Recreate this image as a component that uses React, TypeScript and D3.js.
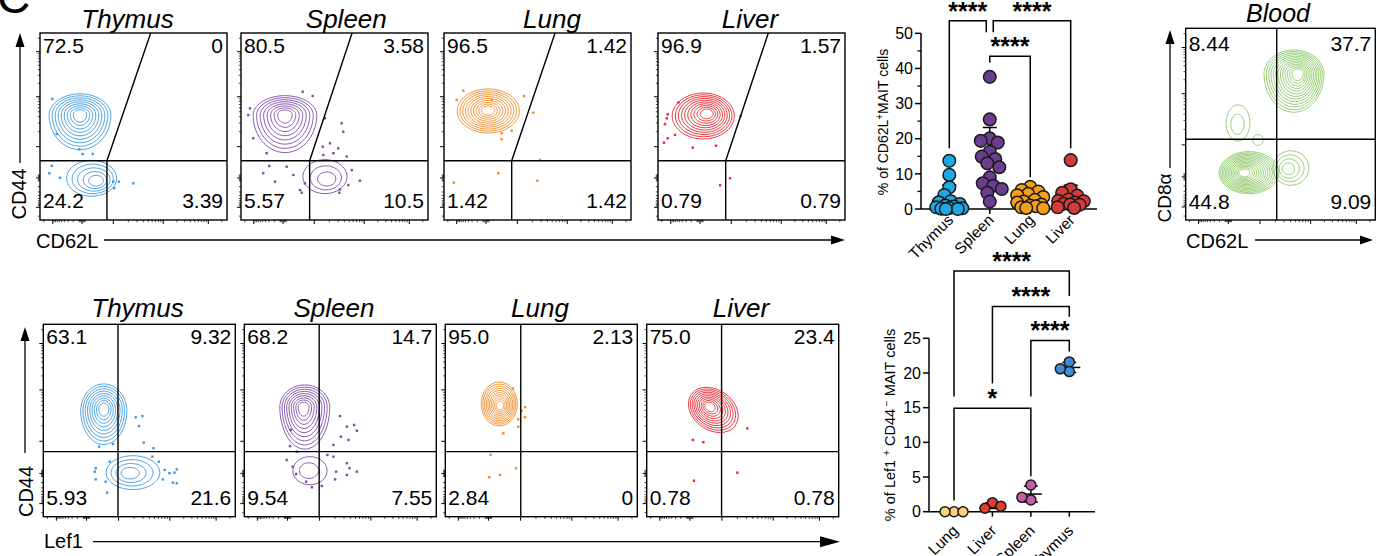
import * as d3 from "d3";
import React from "react";

const FONT = "'Liberation Sans', Arial, Helvetica, sans-serif";

// ---------- top row: CD62L vs CD44 ----------
const tissues = ["Thymus", "Spleen", "Lung", "Liver"];
const cd62lQuadrants = [
  ["72.5", "0", "24.2", "3.39"],
  ["80.5", "3.58", "5.57", "10.5"],
  ["96.5", "1.42", "1.42", "1.42"],
  ["96.9", "1.57", "0.79", "0.79"],
];
const cd62lGateX = [35.8, 36.7, 36.2, 36.2];
const cd62lGateTopX = [59.2, 59.4, 59.4, 59.0];
const cd62lGateY = 31.7;

// contour islands (axis units 0-100): centre, radii, levels, peak, rotation, downward stretch
const thymusCd62lContours = [
  { cx: 21.4, cy: 56, rx: 16.5, ry: 11.5, n: 9, px: 21.4, py: 56.5, rot: 0, tail: 1.6 },
  { cx: 27.6, cy: 22.3, rx: 13.4, ry: 9.6, n: 5, px: 31, py: 20.5, rot: 0, tail: 1 },
];
const spleenCd62lContours = [
  { cx: 23.5, cy: 56, rx: 17, ry: 10.5, n: 8, px: 23.5, py: 56.5, rot: 0, tail: 1.9 },
  { cx: 44.9, cy: 23.2, rx: 11.8, ry: 9.1, n: 3, px: 46.5, py: 21, rot: 0, tail: 1 },
];
const lungCd62lContours = [
  { cx: 23.7, cy: 58.3, rx: 16.6, ry: 11.8, n: 10, px: 23.5, py: 58.5, rot: 0, tail: 1 },
];
const liverCd62lContours = [
  { cx: 24.2, cy: 55.6, rx: 16.6, ry: 12.3, n: 10, px: 26.5, py: 57, rot: 0, tail: 1 },
];

const thymusCd62lEvents = [
  [6.6, 64.7], [8.9, 46], [21, 37.8], [22.8, 35.3], [28.2, 35.3], [6.3, 29], [5, 25],
  [10.7, 22.6], [39.2, 20.5], [42.2, 20.5], [49.9, 19.6], [39.7, 17],
];
const spleenCd62lEvents = [
  [33, 68.6], [38.3, 66.3], [4.8, 59.7], [3.9, 56.1], [6.6, 43.7], [44.9, 54.4], [53.8, 51.7],
  [54.7, 47.2], [43.7, 39.2], [47.6, 41], [52, 38.3], [49.4, 35.7], [44, 34.8], [56.5, 33.9],
  [13.7, 35.7], [15.1, 28.9], [11.9, 25], [18.2, 20.5], [28, 24.1], [24.4, 28.5], [31.6, 16],
  [34.2, 19.6], [52.9, 16.4], [57.4, 18.7], [52.6, 14.6], [63.6, 21], [59.2, 26.7], [32.5, 14.6],
];
const lungCd62lEvents = [
  [10.3, 69.2], [6.8, 64.2], [25.5, 64.2], [42.8, 66.3], [47.8, 57.4], [30.8, 46.4], [30.8, 43.2],
  [36.2, 47.8], [29, 25], [5.3, 20], [51.3, 32.1], [49.9, 21],
];
const liverCd62lEvents = [
  [10.9, 62.9], [5.2, 56.5], [4.7, 54.4], [3.7, 51.3], [3.2, 41.3], [5.2, 43.7], [9.1, 45.5],
  [18.6, 38.7], [31, 39.7], [44.2, 55.6], [38.5, 22.3], [33.2, 18.6],
];

// ---------- bottom row: Lef1 vs CD44 ----------
const lef1Quadrants = [
  ["63.1", "9.32", "5.93", "21.6"],
  ["68.2", "14.7", "9.54", "7.55"],
  ["95.0", "2.13", "2.84", "0"],
  ["75.0", "23.4", "0.78", "0.78"],
];
const lef1GateX = [38.9, 39.0, 39.3, 39.0];
const lef1GateY = 33.8;

const thymusLef1Contours = [
  { cx: 31.5, cy: 55, rx: 12, ry: 14, n: 9, px: 31.5, py: 56.3, rot: 0, tail: 1.25 },
  { cx: 46.7, cy: 22.9, rx: 14, ry: 8.8, n: 4, px: 44.5, py: 22.5, rot: 0, tail: 1 },
];
const spleenLef1Contours = [
  { cx: 31.5, cy: 57, rx: 13, ry: 11.5, n: 9, px: 30.7, py: 57, rot: 0, tail: 1.9 },
  { cx: 34.2, cy: 23.9, rx: 8.9, ry: 7.3, n: 2, px: 33, py: 24, rot: 0, tail: 1 },
];
const lungLef1Contours = [
  { cx: 28.1, cy: 58.6, rx: 9.4, ry: 11.4, n: 10, px: 28.5, py: 57.5, rot: 0, tail: 1 },
];
const liverLef1Contours = [
  { cx: 34.7, cy: 55.5, rx: 14, ry: 10.5, n: 10, px: 32.5, py: 57.5, rot: -35, tail: 1 },
];

const thymusLef1Events = [
  [48.1, 51.7], [51.6, 52.3], [49.8, 47.1], [52.3, 38.5], [29.1, 36.4], [36.3, 37.8], [57.4, 35.6],
  [56.8, 31.2], [60.2, 28.6], [27.3, 25.2], [26.8, 23.4], [34.6, 28.6], [27.3, 19.4], [32.5, 18.2],
  [33.2, 12.5], [63.2, 24.3], [65.7, 22.6], [68.3, 22.9], [69.5, 24.6], [67.5, 17.7], [69.5, 17.4],
  [62.3, 19.4],
];
const spleenLef1Events = [
  [49.9, 52.3], [53.4, 46.8], [57.2, 47.7], [58.6, 44.7], [54.3, 39.9], [50.3, 41.6], [46.4, 37.3],
  [23.8, 36.7], [27.3, 33.8], [22.1, 29.5], [25.2, 26], [27, 22.2], [32.2, 18.2], [35.2, 15.3],
  [40.4, 16], [47.3, 19.4], [53.4, 21.7], [58.6, 23.4], [53.4, 27.8], [46.4, 31.2], [43.3, 32.1],
  [47.8, 23.4], [54.8, 25.2], [24.2, 45.1],
];
const lungLef1Events = [
  [35.1, 66.7], [41.5, 56.9], [39.8, 55.1], [41.5, 51.7], [38, 50.6], [38, 46.8], [30.2, 43.3],
  [23.6, 32.1], [36.8, 25.2], [28.5, 21.7], [22.9, 20.5],
];
const liverLef1Events = [[52.4, 45.9], [24, 39.9], [29.5, 38.7], [47.2, 22.9], [24.6, 18.7]];

// ---------- blood: CD62L vs CD8a ----------
const bloodQuadrants = ["8.44", "37.7", "44.8", "9.09"];
const bloodGateX = 48;
const bloodGateY = 42.1;
const bloodContours = [
  { cx: 57.1, cy: 76.2, rx: 15.8, ry: 12.5, n: 13, px: 59.5, py: 76.5, rot: 0, tail: 1.6 },
  { cx: 27.6, cy: 50.6, rx: 6.3, ry: 9.4, n: 2, px: 27, py: 49, rot: 0, tail: 1 },
  { cx: 38.1, cy: 41.7, rx: 2.8, ry: 2.8, n: 1, px: 38.1, py: 41.7, rot: 0, tail: 1 },
  { cx: 33.4, cy: 24.7, rx: 15.8, ry: 11, n: 14, px: 30.5, py: 24.5, rot: 0, tail: 1 },
  { cx: 55.5, cy: 27.1, rx: 9.5, ry: 9, n: 4, px: 53.5, py: 26.5, rot: 0, tail: 1 },
];

// biexponential axis decades (axis units)
const flowMajorTicks = [6.8, 22.5, 39.2, 65.9, 90];

// ---------- % CD62L+ MAIT cells ----------
const cd62lThymus = [13.7, 9.7, 6.2, 4.0, 2.2, 1.9, 1.4, 1.0, 0.7, 0.5, 0.3, 0.2, 0.1, 0, 0];
const cd62lSpleen = [37.6, 25.5, 20.1, 19.4, 18.9, 16.3, 14.9, 14.2, 13.0, 11.9, 9.0, 7.3, 6.6, 5.7, 4.6, 2.1];
const cd62lLung = [6.3, 5.4, 5.0, 4.3, 3.9, 3.4, 2.6, 2.1, 1.8, 1.3, 1.0, 0.8, 0.5, 0.3, 0.2];
const cd62lLiver = [13.9, 5.6, 4.6, 3.8, 2.7, 2.3, 2.2, 1.8, 1.5, 1.3, 1.2, 0.5, 0.3];
const cd62lTicks = [0, 10, 20, 30, 40, 50];
const cd62lComparisons = [
  { from: "Thymus", to: "Spleen", level: 53.6, fromEnd: 17.3, toEnd: 50.3, stars: "****" },
  { from: "Spleen", to: "Liver", level: 53.6, fromEnd: 50.3, toEnd: 17.3, stars: "****" },
  { from: "Spleen", to: "Lung", level: 43.5, fromEnd: 41.7, toEnd: 9, stars: "****" },
];

// ---------- % Lef1+ CD44- MAIT cells ----------
const lef1Order = ["Lung", "Liver", "Spleen", "Thymus"];
const lef1Lung = [0, 0, 0];
const lef1Liver = [1.3, 0.5, 0.8];
const lef1Spleen = [3.85, 1.7, 2.07];
const lef1Thymus = [21.6, 20.2, 20.6];
const lef1Ticks = [0, 5, 10, 15, 20, 25];
const lef1Comparisons = [
  { from: "Lung", to: "Thymus", level: 34.7, fromEnd: 16.6, toEnd: 31.1, stars: "****" },
  { from: "Liver", to: "Thymus", level: 29.6, fromEnd: 18.5, toEnd: 28.1, stars: "****" },
  { from: "Spleen", to: "Thymus", level: 24.7, fromEnd: 16.6, toEnd: 23.1, stars: "****" },
  { from: "Lung", to: "Spleen", level: 14.9, fromEnd: 1.6, toEnd: 5.1, stars: "*" },
];

const flowColors = ["#3f97df", "#7b4ca6", "#f28a25", "#e8262e"];
const bloodColor = "#8cc866";
const cd62lFills = ["#1fa8e4", "#6a3d8f", "#f6a01a", "#d63a3a"];
const lef1Fills = ["#fcd07a", "#e53a2d", "#c45ea8", "#3d8ed8"];

function flowTicks() {
  const minor: number[] = [];
  const bounds = [...flowMajorTicks, 114];
  for (let i = 2; i < bounds.length - 1; i++) {
    const a = bounds[i], b = bounds[i + 1];
    for (let k = 2; k <= 9; k++) minor.push(a + (b - a) * Math.log10(k));
  }
  for (let k = 2; k <= 9; k++) {
    minor.push(22.5 - (22.5 - 6.8) * Math.log10(k));
    minor.push(6.8 - (22.5 - 6.8) * Math.log10(k));
  }
  [-1.6, -1.1, -0.6, 0.6, 1.1, 1.6].forEach((d) => minor.push(22.5 + d));
  return minor.filter((t) => t >= 0 && t <= 100);
}
const flowMinorTicks = flowTicks();

type Blob = { cx: number; cy: number; rx: number; ry: number; n: number; px: number; py: number; rot: number; tail: number };

function ringPath(b: Blob, s: number, x: any, y: any) {
  const cx = b.px + (b.cx - b.px) * s;
  const cy = b.py + (b.cy - b.py) * s;
  const a = (b.rot * Math.PI) / 180;
  const pts = d3.range(40).map((i) => {
    const t = (i / 40) * 2 * Math.PI;
    const ex = b.rx * s * Math.cos(t);
    let ey = b.ry * s * Math.sin(t);
    if (ey < 0) ey *= b.tail;
    return [x(cx + ex * Math.cos(a) - ey * Math.sin(a)), y(cy + ex * Math.sin(a) + ey * Math.cos(a))] as [number, number];
  });
  return d3.line().curve(d3.curveCardinalClosed)(pts) || "";
}

function Arrow({ x1, y1, x2, y2, head = 14, width = 9 }: any) {
  const ang = Math.atan2(y2 - y1, x2 - x1);
  const bx = x2 - head * Math.cos(ang);
  const by = y2 - head * Math.sin(ang);
  const px = (-Math.sin(ang) * width) / 2;
  const py = (Math.cos(ang) * width) / 2;
  return (
    <g>
      <line x1={x1} y1={y1} x2={bx} y2={by} stroke="#000" strokeWidth={1.3} />
      <path d={`M${x2},${y2}L${bx + px},${by + py}L${bx - px},${by - py}Z`} fill="#000" />
    </g>
  );
}

function FlowPanel({ left, top, w, h, color, contours, events, quad, gateX, gateY, gateTopX, title, titleX, titleY, titleSize = 26, numTop = 20, numBottom = 12 }: any) {
  const x = d3.scaleLinear().domain([0, 100]).range([left, left + w]);
  const y = d3.scaleLinear().domain([0, 100]).range([top + h, top]);
  const rings: string[] = [];
  contours.forEach((b: Blob) => {
    for (let i = 0; i < b.n; i++) {
      const s = b.n === 1 ? 1 : 1 - (i / b.n) * 0.88;
      rings.push(ringPath(b, s, x, y));
    }
  });
  const fs = 21;
  return (
    <g>
      <text x={titleX} y={titleY} textAnchor="middle" fontStyle="italic" fontSize={titleSize} fontFamily={FONT}>
        {title}
      </text>
      {flowMajorTicks.map((t) => (
        <g key={"M" + t}>
          <line x1={x(0) - 4} x2={x(0)} y1={y(t)} y2={y(t)} stroke="#000" strokeWidth={1} />
          <line x1={x(t)} x2={x(t)} y1={y(0)} y2={y(0) + 4} stroke="#000" strokeWidth={1} />
        </g>
      ))}
      {flowMinorTicks.map((t, i) => (
        <g key={"m" + i}>
          <line x1={x(0) - 2.2} x2={x(0)} y1={y(t)} y2={y(t)} stroke="#000" strokeWidth={0.7} />
          <line x1={x(t)} x2={x(t)} y1={y(0)} y2={y(0) + 2.2} stroke="#000" strokeWidth={0.7} />
        </g>
      ))}
      <g fill="none" stroke={color} strokeWidth={0.9}>
        {rings.map((d, i) => (
          <path key={i} d={d} />
        ))}
      </g>
      <g fill={color}>
        {events.map((e: number[], i: number) => (
          <rect key={i} x={x(e[0]) - 1.2} y={y(e[1]) - 1.2} width={2.4} height={2.4} />
        ))}
      </g>
      <g stroke="#000" strokeWidth={1.4} fill="none">
        <rect x={left} y={top} width={w} height={h} />
        <line x1={x(0)} x2={x(100)} y1={y(gateY)} y2={y(gateY)} />
        {gateTopX == null ? (
          <line x1={x(gateX)} x2={x(gateX)} y1={y(0)} y2={y(100)} />
        ) : (
          <polyline points={`${x(gateX)},${y(0)} ${x(gateX)},${y(gateY)} ${x(gateTopX)},${y(100)}`} />
        )}
      </g>
      <g fontSize={fs} fontFamily={FONT}>
        <text x={left + 3} y={top + numTop}>{quad[0]}</text>
        <text x={left + w - 4} y={top + numTop} textAnchor="end">{quad[1]}</text>
        <text x={left + 3} y={top + h - numBottom}>{quad[2]}</text>
        <text x={left + w - 4} y={top + h - numBottom} textAnchor="end">{quad[3]}</text>
      </g>
    </g>
  );
}

// column scatter: keep points apart where there is room, otherwise let them overlap inside the column
function swarm(values: number[], y: any, minDist: number, maxW: number) {
  const placed: { dx: number; py: number }[] = [];
  return values.map((v) => {
    const py = y(v);
    let best = 0;
    let bestD = -1;
    for (let k = 0; k <= maxW * 4; k++) {
      const cand = k === 0 ? 0 : (k % 2 ? -1 : 1) * Math.ceil(k / 2) * 0.5;
      const d = placed.length ? Math.min(...placed.map((p) => Math.hypot(p.dx - cand, p.py - py))) : Infinity;
      if (d >= minDist) {
        best = cand;
        break;
      }
      if (d > bestD) {
        bestD = d;
        best = cand;
      }
    }
    placed.push({ dx: best, py });
    return { v, dx: best, py };
  });
}

function DotChart({ cats, series, fills, catRange, axisX, axisEnd, yDomain, yRange, ticks, minor, comps, r, minDist, maxW, meanW, capW, ylabel, ylabelX, ylabelY, ylabelSize, catLabelDy }: any) {
  const x = d3.scalePoint().domain(cats).range(catRange);
  const y = d3.scaleLinear().domain(yDomain).range(yRange);
  const y0 = y(0);
  const endpointShift = (cat: string, level: number, self: any) => {
    const other = comps.find((c: any) => c !== self && c.level === level && (c.from === cat || c.to === cat));
    if (!other) return 0;
    const selfOther = self.from === cat ? self.to : self.from;
    return (x(selfOther) as number) < (x(cat) as number) ? -3.5 : 3.5;
  };
  return (
    <g fontFamily={FONT}>
      <line x1={axisX} x2={axisX} y1={y0} y2={y(yDomain[1])} stroke="#000" strokeWidth={1.5} />
      {ticks.map((t: number) => (
        <g key={t}>
          <line x1={axisX - 6} x2={axisX} y1={y(t)} y2={y(t)} stroke="#000" strokeWidth={1.5} />
          <text x={axisX - 8} y={y(t)} dy="0.36em" textAnchor="end" fontSize={16}>{t}</text>
        </g>
      ))}
      {minor.map((t: number) => (
        <line key={"m" + t} x1={axisX - 3.5} x2={axisX} y1={y(t)} y2={y(t)} stroke="#000" strokeWidth={1.3} />
      ))}
      <line x1={axisX} x2={axisEnd} y1={y0} y2={y0} stroke="#000" strokeWidth={1.5} />
      {cats.map((c: string) => (
        <g key={c}>
          <line x1={x(c)} x2={x(c)} y1={y0} y2={y0 + 5} stroke="#000" strokeWidth={1.5} />
          <text transform={`translate(${(x(c) as number) + 5},${y0 + catLabelDy}) rotate(-45)`} textAnchor="end" fontSize={15.5}>
            {c}
          </text>
        </g>
      ))}
      <text transform={`translate(${ylabelX},${ylabelY}) rotate(-90)`} textAnchor="middle" fontSize={ylabelSize}>
        {ylabel}
      </text>
      {comps.map((c: any, i: number) => {
        const xa = (x(c.from) as number) + endpointShift(c.from, c.level, c);
        const xb = (x(c.to) as number) + endpointShift(c.to, c.level, c);
        const yl = y(c.level);
        return (
          <g key={i}>
            <polyline points={`${xa},${y(c.fromEnd)} ${xa},${yl} ${xb},${yl} ${xb},${y(c.toEnd)}`} fill="none" stroke="#000" strokeWidth={1.5} />
            <text x={(xa + xb) / 2} y={yl - 1} textAnchor="middle" fontSize={25} fontWeight="bold">
              {c.stars}
            </text>
          </g>
        );
      })}
      {series.map((vals: number[], i: number) => {
        const cx = x(cats[i]) as number;
        const m = d3.mean(vals) as number;
        const sd = d3.deviation(vals) as number;
        const hi = m + sd;
        const lo = Math.max(0, m - sd);
        return (
          <g key={"e" + i} stroke="#000" strokeWidth={1.5}>
            <line x1={cx} x2={cx} y1={y(lo)} y2={y(hi)} />
            <line x1={cx - capW / 2} x2={cx + capW / 2} y1={y(hi)} y2={y(hi)} />
            {m - sd > 0 && <line x1={cx - capW / 2} x2={cx + capW / 2} y1={y(lo)} y2={y(lo)} />}
            <line x1={cx - meanW / 2} x2={cx + meanW / 2} y1={y(m)} y2={y(m)} />
          </g>
        );
      })}
      {series.map((vals: number[], i: number) => {
        const cx = x(cats[i]) as number;
        return swarm(vals, y, minDist, maxW).map((p, j) => (
          <circle key={i + "-" + j} cx={cx + p.dx} cy={p.py} r={r} fill={fills[i]} stroke="#1a1a1a" strokeWidth={1.5} />
        ));
      })}
    </g>
  );
}

export default function App() {
  const topLeft = [40, 241, 444, 658];
  const topTitleX = [127.5, 346.3, 552, 750];
  const botLeft = [43.3, 244.3, 445.3, 646.7];
  const botTitleX = [137.5, 334, 540, 741];
  const topContours = [thymusCd62lContours, spleenCd62lContours, lungCd62lContours, liverCd62lContours];
  const topEvents = [thymusCd62lEvents, spleenCd62lEvents, lungCd62lEvents, liverCd62lEvents];
  const botContours = [thymusLef1Contours, spleenLef1Contours, lungLef1Contours, liverLef1Contours];
  const botEvents = [thymusLef1Events, spleenLef1Events, lungLef1Events, liverLef1Events];

  return (
    <svg width={1377} height={556} style={{ position: "absolute", left: 0, top: 0, background: "#fff" }} fontFamily={FONT}>
      <rect width={1377} height={556} fill="#fff" />
      <text x={-3} y={13} fontSize={46} fontFamily={FONT}>C</text>

      {tissues.map((t, i) => (
        <FlowPanel key={"t" + t} left={topLeft[i]} top={33} w={187} h={187} color={flowColors[i]}
          contours={topContours[i]} events={topEvents[i]} quad={cd62lQuadrants[i]}
          gateX={cd62lGateX[i]} gateY={cd62lGateY} gateTopX={cd62lGateTopX[i]}
          title={t} titleX={topTitleX[i]} titleY={27.5} />
      ))}
      <Arrow x1={20} y1={163} x2={20} y2={33} />
      <text transform="translate(26,194) rotate(-90)" textAnchor="middle" fontSize={20}>CD44</text>
      <text x={36} y={248} fontSize={20}>CD62L</text>
      <Arrow x1={104} y1={240} x2={845} y2={240} head={14} width={9} />

      {tissues.map((t, i) => (
        <FlowPanel key={"b" + t} left={botLeft[i]} top={324.3} w={192} h={192.4} color={flowColors[i]}
          contours={botContours[i]} events={botEvents[i]} quad={lef1Quadrants[i]}
          gateX={lef1GateX[i]} gateY={lef1GateY} gateTopX={null}
          title={t} titleX={botTitleX[i]} titleY={316.5} />
      ))}
      <Arrow x1={25} y1={453} x2={25} y2={327} />
      <text transform="translate(33,491.5) rotate(-90)" textAnchor="middle" fontSize={20}>CD44</text>
      <text x={44} y={548} fontSize={20}>Lef1</text>
      <Arrow x1={93} y1={541.7} x2={840} y2={541.7} head={20} width={11} />

      <FlowPanel left={1185.7} top={28.3} w={189.6} h={191.7} color={bloodColor}
        contours={bloodContours} events={[]} quad={bloodQuadrants}
        gateX={bloodGateX} gateY={bloodGateY} gateTopX={null}
        title="Blood" titleX={1278} titleY={21.5} titleSize={25} numTop={23} numBottom={11} />
      <Arrow x1={1170} y1={168} x2={1170} y2={30} />
      <text transform="translate(1171,198) rotate(-90)" textAnchor="middle" fontSize={19}>CD8α</text>
      <text x={1186} y={248} fontSize={20}>CD62L</text>
      <Arrow x1={1255} y1={240} x2={1373} y2={240} head={13} width={9} />

      <DotChart cats={tissues} series={[cd62lThymus, cd62lSpleen, cd62lLung, cd62lLiver]} fills={cd62lFills}
        catRange={[949.3, 1070.7]} axisX={921} axisEnd={1097} yDomain={[0, 50]} yRange={[209, 33.3]}
        ticks={cd62lTicks} minor={[5, 15, 25, 35, 45]} comps={cd62lComparisons} r={6.3} minDist={9} maxW={13}
        meanW={24} capW={14} ylabelX={888} ylabelY={122} ylabelSize={14} catLabelDy={12}
        ylabel={<>
          <tspan>% of CD62L</tspan>
          <tspan dy={-5} fontSize={10}>+</tspan>
          <tspan dy={5}>MAIT cells</tspan>
        </>} />

      <DotChart cats={lef1Order} series={[lef1Lung, lef1Liver, lef1Spleen, lef1Thymus]} fills={lef1Fills}
        catRange={[954, 1069.3]} axisX={929} axisEnd={1095} yDomain={[0, 25]} yRange={[511.7, 338.3]}
        ticks={lef1Ticks} minor={[]} comps={lef1Comparisons} r={5} minDist={9} maxW={13}
        meanW={22} capW={14} ylabelX={895} ylabelY={425} ylabelSize={14.5} catLabelDy={20}
        ylabel={<>
          <tspan>% of Lef1 </tspan>
          <tspan dy={-5} fontSize={10}>+</tspan>
          <tspan dy={5}> CD44</tspan>
          <tspan dy={-5} fontSize={10}> −</tspan>
          <tspan dy={5}> MAIT cells</tspan>
        </>} />
    </svg>
  );
}
